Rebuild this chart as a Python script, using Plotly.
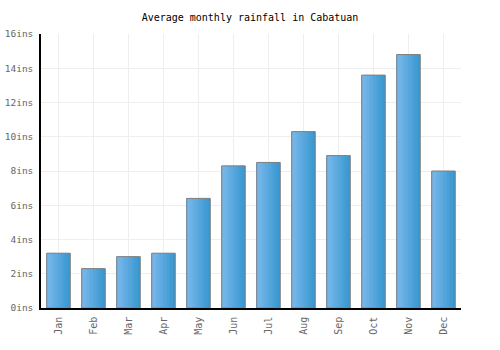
import plotly.graph_objects as go

months = ["Jan", "Feb", "Mar", "Apr", "May", "Jun", "Jul", "Aug", "Sep", "Oct", "Nov", "Dec"]
rainfall = [3.2, 2.3, 3.0, 3.2, 6.4, 8.3, 8.5, 10.3, 8.9, 13.6, 14.8, 8.0]
y_ticks = [0, 2, 4, 6, 8, 10, 12, 14, 16]
y_labels = [f"{v}ins" for v in y_ticks]

BAR_W = 0.67
N = 16
c0 = (0x78, 0xb8, 0xec)
c1 = (0x3a, 0x98, 0xd0)

fig = go.Figure()
x_idx = list(range(len(months)))
for i in range(N):
    t = i / (N - 1)
    col = "rgb(%d,%d,%d)" % tuple(round(a + (b - a) * t) for a, b in zip(c0, c1))
    fig.add_trace(go.Bar(
        x=x_idx, y=rainfall, width=BAR_W / N + 0.004, offset=-BAR_W / 2 + i * BAR_W / N,
        marker=dict(color=col, line=dict(width=0)), hoverinfo="skip", showlegend=False,
    ))
fig.add_trace(go.Bar(
    x=x_idx, y=rainfall, width=BAR_W, offset=-BAR_W / 2,
    marker=dict(color="rgba(0,0,0,0)", line=dict(color="#7f7f7f", width=1)),
    showlegend=False,
))

fig.update_layout(
    width=500, height=350,
    margin=dict(l=41, r=39, t=34, b=42),
    barmode="overlay",
    plot_bgcolor="white", paper_bgcolor="white",
    font=dict(family="DejaVu Sans Mono", size=10, color="#666666"),
    title=dict(text="Average monthly rainfall in Cabatuan", x=0.5, xanchor="center",
               y=1 - 17 / 350, yanchor="middle",
               font=dict(family="DejaVu Sans Mono", size=10, color="#000000")),
)
fig.update_xaxes(
    tickmode="array", tickvals=x_idx, ticktext=months, tickangle=-90,
    range=[-0.5, 11.5], showgrid=True, gridcolor="#eeeeee", tickson="boundaries",
    showline=True, linecolor="#000000", linewidth=1.5,
    ticks="outside", ticklen=3, tickcolor="rgba(0,0,0,0)",
    mirror=False, zeroline=False, automargin=False,
)
fig.update_yaxes(
    tickmode="array", tickvals=y_ticks, ticktext=y_labels, range=[0, 16],
    showgrid=True, gridcolor="#eeeeee", showline=True, linecolor="#000000", linewidth=1.5,
    ticks="outside", ticklen=4, tickcolor="rgba(0,0,0,0)",
    tickfont=dict(size=9.5),
    zeroline=False, automargin=False,
)
fig.write_html("out.html")
